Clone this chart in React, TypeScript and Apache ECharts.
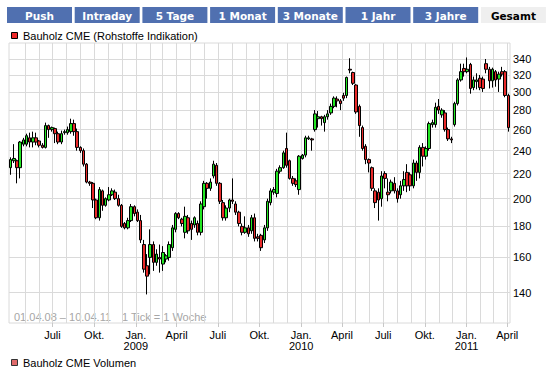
import { useEffect, useRef } from "react";
import * as echarts from "echarts";

// ---------- data ----------
const TABS = ["Push", "Intraday", "5 Tage", "1 Monat", "3 Monate", "1 Jahr", "3 Jahre", "Gesamt"];
const ACTIVE_TAB = "Gesamt";
const SERIES_NAME = "Bauholz CME (Rohstoffe Indikation)";
const VOLUME_NAME = "Bauholz CME Volumen";
const RANGE_TEXT = "01.04.08 – 10.04.11";
const TICK_TEXT = "1 Tick = 1 Woche";
const Y_TICKS = [140, 160, 180, 200, 220, 240, 260, 280, 300, 320, 340];
const Y_MIN = 124.7;
const Y_MAX = 361.3;
const X_START = "2008-03-27";
const X_END = "2011-04-07";
const MONTH_LABELS: Record<number, string> = { 0: "Jan.", 3: "April", 6: "Juli", 9: "Okt." };

// weekly candles (one per week, starting with the week of 01.04.08)
const OPEN = [
  225, 231, 231, 225, 246, 246, 252, 248, 252, 249, 245, 243, 264, 260, 261, 256, 248, 257, 257, 258,
  266, 258, 243, 240, 228, 213, 212, 199, 186, 206, 195, 199, 203, 205, 200, 195, 182, 179, 184, 194,
  190, 184, 168, 155, 160, 168, 157, 160, 156, 159, 160, 166, 178, 189, 185, 176, 186, 182, 181, 182,
  176, 194, 212, 208, 218, 227, 212, 197, 186, 193, 199, 196, 190, 180, 176, 179, 177, 186, 173, 174,
  171, 179, 197, 205, 204, 222, 225, 242, 231, 216, 214, 207, 233, 236, 251, 251, 260, 271, 273, 267,
  273, 277, 284, 292, 290, 296, 296, 327, 323, 308, 284, 262, 244, 232, 225, 206, 205, 200, 220, 205,
  206, 212, 206, 203, 210, 221, 219, 210, 229, 221, 243, 235, 242, 265, 265, 284, 275, 277, 260, 251,
  265, 287, 314, 328, 324, 333, 305, 312, 316, 315, 334, 327, 313, 324, 315, 324, 324, 296,
];
const CLOSE = [
  232, 233, 225, 248, 250, 254, 248, 252, 248, 245, 243, 264, 260, 262, 256, 248, 256, 258, 260, 266,
  258, 243, 240, 228, 213, 212, 199, 186, 207, 195, 200, 203, 206, 200, 195, 180, 179, 184, 194, 189,
  184, 171, 153, 149, 168, 157, 162, 159, 163, 161, 168, 179, 189, 186, 182, 187, 177, 178, 186, 176,
  196, 212, 208, 213, 228, 212, 198, 186, 193, 199, 198, 190, 182, 176, 179, 175, 186, 172, 172, 166,
  179, 198, 206, 207, 222, 225, 238, 227, 216, 212, 211, 235, 236, 252, 252, 250, 276, 273, 271, 273,
  276, 284, 293, 290, 287, 293, 317, 326, 310, 278, 264, 242, 232, 229, 208, 197, 199, 218, 216, 203,
  213, 206, 200, 210, 215, 210, 210, 229, 221, 243, 235, 242, 266, 267, 283, 280, 280, 260, 251, 250,
  287, 314, 324, 324, 327, 304, 314, 314, 305, 304, 327, 313, 327, 314, 321, 321, 296, 262,
];
const LOW = [
  219, 229, 212, 216, 244, 244, 243, 243, 245, 243, 242, 242, 252, 258, 247, 246, 246, 255, 255, 256,
  254, 240, 238, 226, 212, 210, 193, 185, 184, 191, 194, 198, 202, 199, 194, 179, 178, 178, 183, 187,
  183, 169, 151, 139, 150, 152, 155, 151, 152, 157, 158, 164, 176, 185, 180, 172, 175, 171, 179, 174,
  174, 192, 200, 206, 216, 210, 196, 184, 184, 190, 196, 188, 180, 174, 175, 173, 175, 170, 170, 164,
  169, 177, 195, 203, 201, 220, 224, 225, 215, 210, 209, 203, 232, 234, 250, 240, 258, 262, 264, 258,
  270, 275, 282, 283, 280, 290, 293, 322, 308, 276, 253, 240, 228, 221, 206, 193, 184, 194, 208, 198,
  204, 204, 197, 200, 206, 205, 206, 208, 214, 216, 226, 232, 240, 262, 262, 276, 272, 258, 249, 247,
  263, 285, 312, 318, 322, 298, 302, 303, 302, 300, 322, 304, 305, 306, 300, 318, 294, 258,
];
const HIGH = [
  234, 246, 232, 249, 252, 256, 257, 258, 257, 250, 247, 267, 265, 263, 262, 258, 259, 260, 263, 271,
  270, 261, 244, 242, 229, 214, 213, 200, 209, 207, 201, 209, 208, 207, 203, 196, 183, 186, 196, 195,
  192, 188, 171, 162, 178, 170, 165, 168, 167, 162, 170, 181, 190, 190, 186, 194, 188, 184, 187, 184,
  198, 214, 213, 216, 231, 229, 213, 199, 195, 200, 216, 198, 191, 182, 187, 181, 188, 189, 175, 175,
  181, 200, 208, 209, 224, 227, 240, 257, 232, 218, 216, 236, 237, 254, 254, 252, 280, 279, 274, 275,
  280, 287, 295, 295, 292, 299, 318, 341, 324, 309, 286, 264, 246, 233, 226, 208, 208, 222, 222, 216,
  215, 217, 208, 214, 222, 228, 221, 232, 231, 245, 247, 244, 268, 270, 288, 292, 282, 280, 262, 253,
  289, 316, 334, 334, 342, 335, 318, 322, 320, 318, 340, 330, 329, 326, 324, 330, 326, 298,
];

// ---------- helpers ----------
const DAY = 86400000;
const t0 = Date.parse(X_START + "T00:00:00Z");
const t1 = Date.parse(X_END + "T00:00:00Z");

function monthStarts(fromY: number, fromM: number, toY: number, toM: number, step: number) {
  const out: number[] = [];
  let y = fromY, m = fromM;
  while (y < toY || (y === toY && m <= toM)) {
    out.push(Date.UTC(y, m, 1));
    m += step;
    while (m > 11) { m -= 12; y += 1; }
  }
  return out;
}

const MONTH_TICKS = monthStarts(2008, 4, 2011, 3, 1);
const QUARTER_TICKS = monthStarts(2008, 6, 2011, 3, 3);

const candleData = OPEN.map((o, i) => [t0 + (3.5 + 7 * i) * DAY, o, CLOSE[i], LOW[i], HIGH[i]]);

const FONT = "'Liberation Sans', Arial, sans-serif";
const GRID_COLOR = "#dadada";

export default function App() {
  const ref = useRef<HTMLDivElement>(null);
  useEffect(() => {
    if (!ref.current) return;
    const chart = echarts.init(ref.current, undefined, { renderer: "svg" });

    const tabGraphics: any[] = [];
    TABS.forEach((name, i) => {
      const x = 7 + i * 67.7;
      const active = name === ACTIVE_TAB;
      tabGraphics.push({
        type: "rect",
        shape: { x, y: 7, width: 65, height: 16 },
        style: { fill: active ? "#efefef" : "#5070b0" },
      });
      tabGraphics.push({
        type: "text",
        x: x + 32.5,
        y: 15.5,
        style: {
          text: name,
          fill: active ? "#000" : "#fff",
          font: "bold 10.5px 'DejaVu Sans', Verdana, sans-serif",
          align: "center",
          verticalAlign: "middle",
        },
      });
    });

    chart.setOption({
      animation: false,
      backgroundColor: "#fff",
      grid: {
        left: 9,
        right: 42,
        top: 43,
        bottom: 45,
        show: true,
        borderColor: GRID_COLOR,
        borderWidth: 1,
      },
      xAxis: [
        {
          type: "value",
          min: t0,
          max: t1,
          axisLine: { show: false },
          axisTick: { show: false, customValues: MONTH_TICKS },
          splitLine: { show: true, lineStyle: { color: GRID_COLOR, width: 1 } },
          axisLabel: {
            customValues: QUARTER_TICKS,
            margin: 6,
            color: "#000",
            fontFamily: FONT,
            fontSize: 11,
            lineHeight: 11,
            formatter: (v: number) => {
              const d = new Date(v);
              const m = d.getUTCMonth();
              const lab = MONTH_LABELS[m] || "";
              return m === 0 ? lab + "\n" + d.getUTCFullYear() : lab;
            },
          },
        },
        {
          type: "value",
          min: t0,
          max: t1,
          position: "bottom",
          axisLine: { show: false },
          axisTick: {
            show: true,
            customValues: QUARTER_TICKS,
            length: 4,
            lineStyle: { color: "#c8c8c8" },
          },
          splitLine: { show: false },
          axisLabel: { show: false },
        },
      ],
      yAxis: {
        type: "log",
        logBase: 10,
        min: Y_MIN,
        max: Y_MAX,
        position: "right",
        axisLine: { show: false },
        axisTick: { show: false, customValues: Y_TICKS },
        splitLine: { show: true, lineStyle: { color: GRID_COLOR, width: 1 } },
        axisLabel: {
          customValues: Y_TICKS,
          margin: 3,
          color: "#000",
          fontFamily: FONT,
          fontSize: 11,
          formatter: (v: number) => String(Math.round(v)),
        },
      },
      series: [
        {
          name: SERIES_NAME,
          type: "candlestick",
          xAxisIndex: 0,
          yAxisIndex: 0,
          barWidth: 3,
          dimensions: ["time", "open", "close", "lowest", "highest"],
          encode: { x: "time", y: ["open", "close", "lowest", "highest"] },
          data: candleData,
          itemStyle: {
            color: "#22e622",
            color0: "#e82a2a",
            borderColor: "#000",
            borderColor0: "#000",
            borderWidth: 1,
          },
        },
      ],
      graphic: [
        ...tabGraphics,
        {
          type: "rect",
          shape: { x: 11.5, y: 32.5, width: 6, height: 6 },
          style: { fill: "#ee2a2a", stroke: "#000", lineWidth: 1 },
        },
        {
          type: "text",
          x: 23,
          y: 35.5,
          style: { text: SERIES_NAME, fill: "#000", font: `11px ${FONT}`, verticalAlign: "middle" },
        },
        {
          type: "text",
          x: 14,
          y: 316.5,
          style: { text: RANGE_TEXT, fill: "#a6a6a6", font: `11px ${FONT}`, verticalAlign: "middle" },
        },
        {
          type: "text",
          x: 122,
          y: 316.5,
          style: { text: TICK_TEXT, fill: "#a6a6a6", font: `11px ${FONT}`, verticalAlign: "middle" },
        },
        {
          type: "rect",
          shape: { x: 11.5, y: 359.5, width: 6, height: 6 },
          style: { fill: "#e06a6a", stroke: "#333", lineWidth: 1 },
        },
        {
          type: "text",
          x: 23,
          y: 362.5,
          style: { text: VOLUME_NAME, fill: "#000", font: `11px ${FONT}`, verticalAlign: "middle" },
        },
      ],
    });
    return () => chart.dispose();
  }, []);

  return (
    <div
      ref={ref}
      style={{ position: "absolute", left: 0, top: 0, width: 552, height: 368, background: "#fff" }}
    />
  );
}
